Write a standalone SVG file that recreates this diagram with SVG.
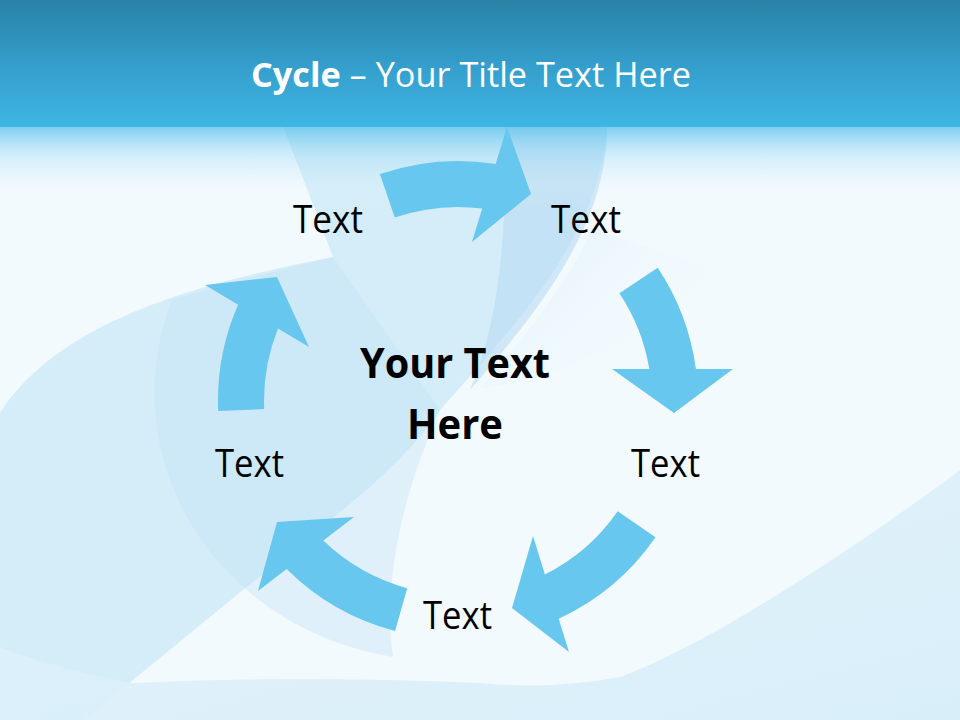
<svg xmlns="http://www.w3.org/2000/svg" width="960" height="720" viewBox="0 0 960 720">
<defs>
<linearGradient id="band" x1="0" y1="0" x2="0" y2="1">
<stop offset="0" stop-color="#2A82A6"/>
<stop offset="0.5" stop-color="#349DCB"/>
<stop offset="1" stop-color="#3FB6E5"/>
</linearGradient>
<linearGradient id="fade" x1="0" y1="0" x2="0" y2="1">
<stop offset="0" stop-color="#5CC3EC" stop-opacity="0.8"/>
<stop offset="0.35" stop-color="#8ED4F2" stop-opacity="0.35"/>
<stop offset="1" stop-color="#FFFFFF" stop-opacity="0"/>
</linearGradient>
<linearGradient id="btm" x1="0" y1="0" x2="1" y2="1">
<stop offset="0" stop-color="#E2F3FB"/>
<stop offset="1" stop-color="#D3ECF8"/>
</linearGradient>
<linearGradient id="soft" x1="0" y1="0" x2="1" y2="0.6">
<stop offset="0" stop-color="#DDF0FA" stop-opacity="0.9"/>
<stop offset="1" stop-color="#F3FAFE" stop-opacity="0"/>
</linearGradient>
<style>
.arrow{fill:#67C7EE;}
.lbl{font-family:"Open Sans","Noto Sans",sans-serif;font-size:39px;fill:#000;}
.ctr{font-family:"Open Sans","Noto Sans",sans-serif;font-size:42px;font-weight:bold;fill:#000;}
.ttl{font-family:"Open Sans","Noto Sans",sans-serif;font-size:34px;fill:#FFFFFF;}
</style>
</defs>

<g id="background">
<rect x="0" y="0" width="960" height="720" fill="#F3FAFE"/>
<path d="M283 126 L333 257 C200 283 60 320 0 413 L0 720 L84 720 L243 590 C330 520 400 470 440 410 C510 330 600 240 607 126 Z" fill="#D4EDF9"/>
<path d="M172 300 A285 268 0 0 0 393 657 C383 585 400 500 440 410 L333 257 C280 270 220 285 172 300 Z" fill="#C3E2F5" opacity="0.4"/>
<path d="M505 126 C507 230 500 320 470 390 C530 320 608 230 607 126 Z" fill="#B9DAF2" opacity="0.6"/>
<path d="M592 228 L735 278 C650 330 560 380 480 388 C540 320 575 270 592 228 Z" fill="url(#soft)"/>
<path d="M960 470 C880 530 720 640 620 677 Q550 690 480 683 Q300 675 133 683 Q60 670 0 647 L0 720 L960 720 Z" fill="url(#btm)" opacity="0.85"/>
<rect x="0" y="126" width="960" height="80" fill="url(#fade)"/>
<rect x="0" y="0" width="960" height="127" fill="url(#band)"/>
</g>

<g id="title">
<text class="ttl" x="251" y="87" textLength="440" lengthAdjust="spacingAndGlyphs"><tspan font-weight="bold">Cycle</tspan> – Your Title Text Here</text>
</g>

<g id="connectors">
<path class="arrow" d="M379.9 174.1 A240 240 0 0 1 495.7 164 L507 127 L531 194 L472 242 L482.2 208.5 A194 194 0 0 0 394.8 217.6 Z"/>
<path class="arrow" d="M657.7 267.8 A240 240 0 0 1 695.9 369 L733 369 L674 413 L612 369 L649.3 369 A194 194 0 0 0 619.4 293.3 Z"/>
<path class="arrow" d="M655.5 537.3 A240 240 0 0 1 558.7 618.8 L569 652 L512 608 L533 536 L544.9 574.4 A194 194 0 0 0 617.7 511.2 Z"/>
<path class="arrow" d="M395.1 631 A240 240 0 0 1 286.6 569 L258 591 L277 522 L354 517 L323.3 540.6 A194 194 0 0 0 407.2 588.2 Z"/>
<path class="arrow" d="M218.2 411.1 A240 240 0 0 1 238.1 304.8 L205 285 L277 277 L309 347 L278 328.5 A194 194 0 0 0 264.2 409.1 Z"/>
</g>

<g id="node-top-left"><text class="lbl" x="293" y="233" textLength="70" lengthAdjust="spacingAndGlyphs">Text</text></g>
<g id="node-top-right"><text class="lbl" x="551" y="233" textLength="70" lengthAdjust="spacingAndGlyphs">Text</text></g>
<g id="node-right"><text class="lbl" x="631" y="477" textLength="69" lengthAdjust="spacingAndGlyphs">Text</text></g>
<g id="node-bottom"><text class="lbl" x="423" y="629" textLength="69" lengthAdjust="spacingAndGlyphs">Text</text></g>
<g id="node-left"><text class="lbl" x="215" y="477" textLength="69" lengthAdjust="spacingAndGlyphs">Text</text></g>
<g id="node-center">
<text class="ctr" x="360" y="378" textLength="190" lengthAdjust="spacingAndGlyphs">Your Text</text>
<text class="ctr" x="407" y="439" textLength="96" lengthAdjust="spacingAndGlyphs">Here</text>
</g>
</svg>
